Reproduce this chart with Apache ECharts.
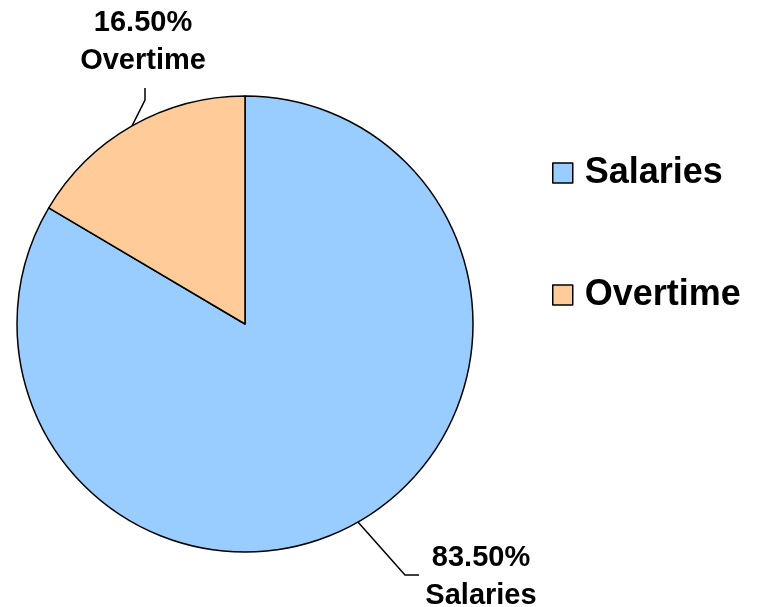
<!DOCTYPE html>
<html>
<head>
<meta charset="utf-8">
<script src="https://cdn.jsdelivr.net/npm/echarts@6/dist/echarts.min.js"></script>
<style>html,body{margin:0;padding:0;background:#fff}#c{width:760px;height:607px}</style>
</head>
<body>
<div id="c"></div>
<script>
const categories = ['Salaries', 'Overtime'];
const values = [83.5, 16.5];
const colors = ['#99CCFF', '#FFCC99'];

const FONT = 'Liberation Sans, Arial, sans-serif';
const chart = echarts.init(document.getElementById('c'), null, {renderer: 'canvas'});

// label anchor positions (layout only)
const labelPos = {
  Overtime: {x: 143, y: 42, bend: [145, 100], end: [145, 88]},
  Salaries: {x: 481, y: 577, bend: [405, 575], end: [419, 575]}
};

chart.setOption({
  backgroundColor: '#fff',
  animation: false,
  legend: {
    orient: 'vertical',
    left: 552,
    top: 155,
    padding: 0,
    itemWidth: 20,
    itemHeight: 20,
    itemGap: 86,
    icon: 'rect',
    data: categories,
    itemStyle: {borderColor: '#000', borderWidth: 1.5},
    textStyle: {fontFamily: FONT, fontSize: 36, fontWeight: 'bold', color: '#000', padding: [0, 0, 0, 7]}
  },
  series: [{
    type: 'pie',
    center: [245, 324],
    radius: 228,
    startAngle: 90,
    clockwise: true,
    data: categories.map((c, i) => ({name: c, value: values[i], itemStyle: {color: colors[i]}})),
    itemStyle: {borderColor: '#000', borderWidth: 1.5},
    label: {
      show: true,
      position: 'outside',
      formatter: p => p.value.toFixed(2) + '%\n' + p.name,
      fontFamily: FONT,
      fontSize: 29,
      fontWeight: 'bold',
      color: '#000',
      lineHeight: 38,
      align: 'center',
      overflow: 'none',
      width: 200
    },
    labelLine: {show: true, lineStyle: {color: '#000', width: 1.5}, length: 20, length2: 10},
    labelLayout: function (params) {
      const name = categories[params.dataIndex];
      const lp = labelPos[name];
      const pts = params.labelLinePoints;
      const start = pts && pts[0] ? pts[0] : lp.bend;
      return {
        x: lp.x,
        y: lp.y,
        align: 'center',
        verticalAlign: 'middle',
        labelLinePoints: [start, lp.bend, lp.end]
      };
    },
    emphasis: {disabled: true}
  }]
});
</script>
</body>
</html>
